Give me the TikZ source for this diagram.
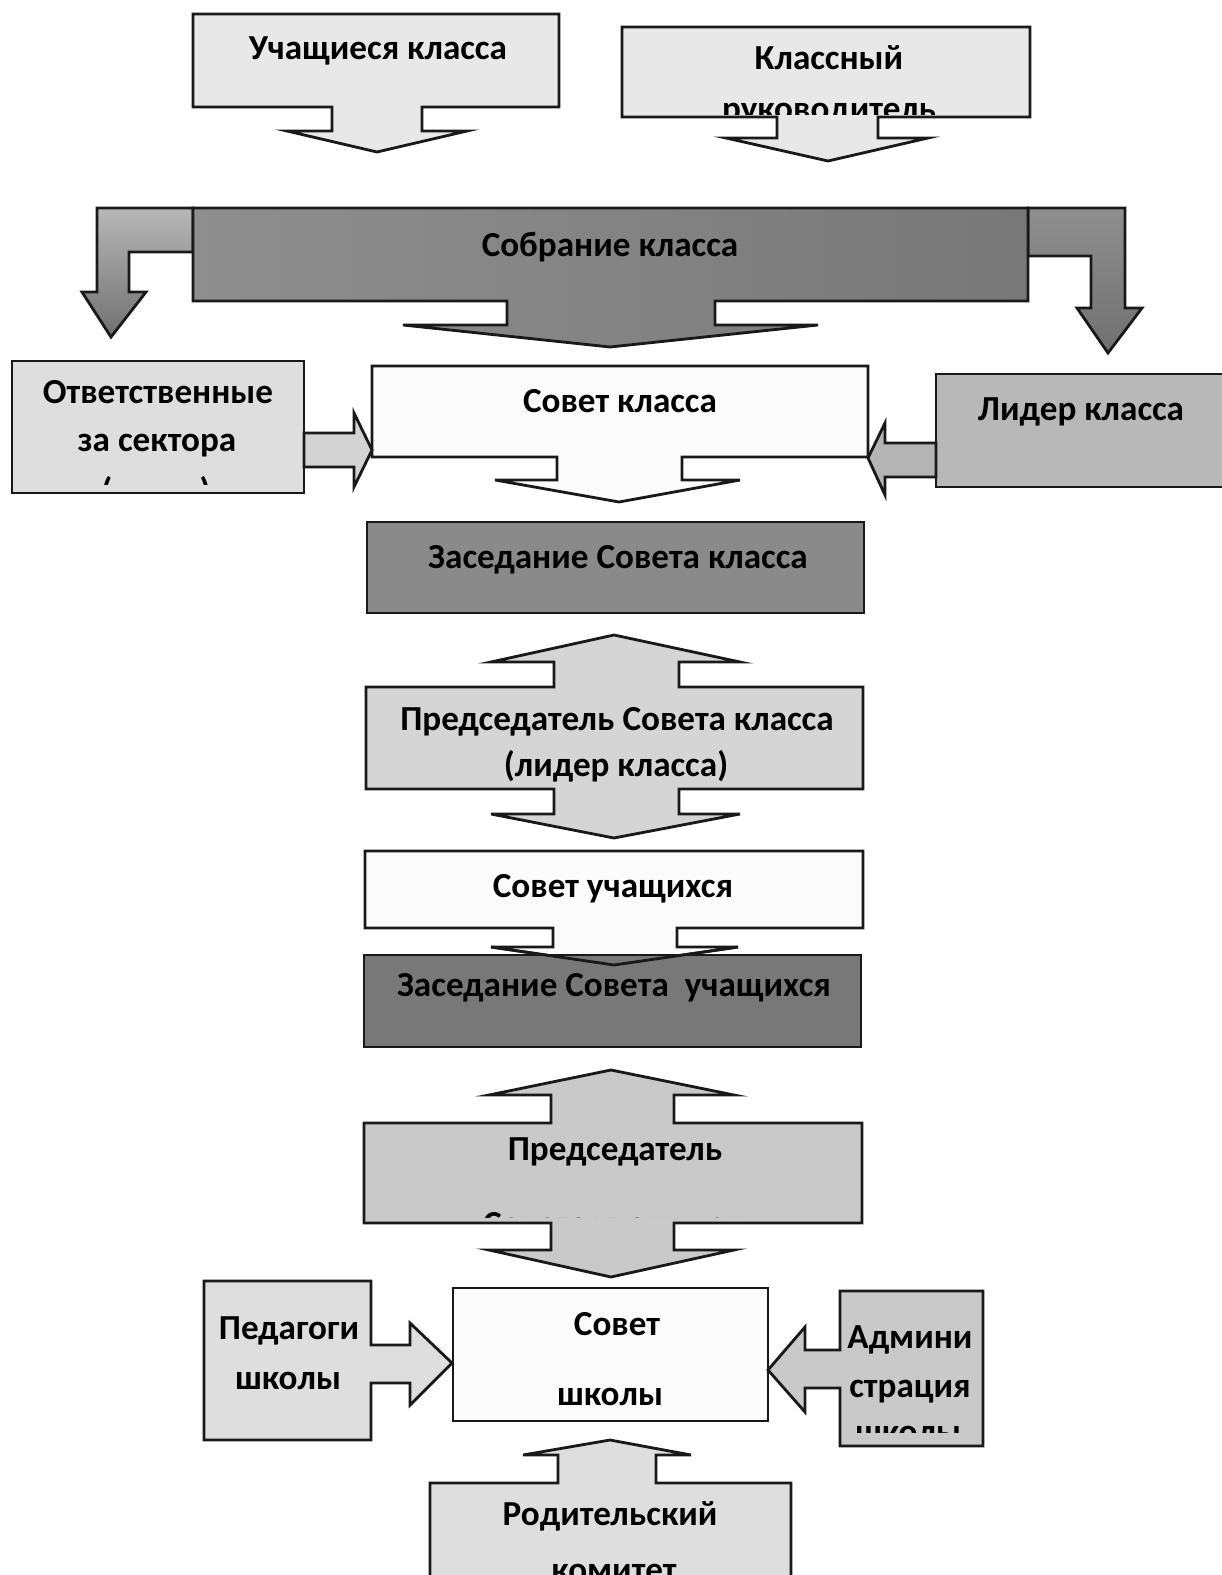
\documentclass[tikz,border=0pt]{standalone}
\usepackage{fontspec}
\setmainfont{Carlito}
\definecolor{boxpale}{gray}{0.91}
\definecolor{boxlight}{gray}{0.87}
\definecolor{boxmid}{gray}{0.79}
\definecolor{boxleader}{gray}{0.72}
\definecolor{boxdark}{gray}{0.54}
\definecolor{boxdarker}{gray}{0.47}
\definecolor{boxwhite}{gray}{0.985}
\begin{document}
\begin{tikzpicture}[x=0.02cm, y=-0.02cm,
                    outline/.style={draw=black!90, line width=1.6pt, line join=miter},
                    txt/.style={anchor=base, inner sep=0pt, text=black,
                                font=\bfseries\fontsize{20}{24}\selectfont}]
  \useasboundingbox (0,0) rectangle (1222,1575);
  \clip (0,0) rectangle (1222,1575);

  \draw[outline, fill=boxpale] (193,14) -- (559,14) -- (559,107) -- (422,107) -- (422,131) -- (467,131)
       -- (377,152) -- (287,131) -- (332,131) -- (332,107) -- (193,107) -- cycle;
  \node[txt] (pupils) at (378,60) {Учащиеся класса};

  \draw[outline, fill=boxpale] (622,27) -- (1030,27) -- (1030,117) -- (878,117) -- (878,138) -- (928,138)
       -- (828,161) -- (726,138) -- (777,138) -- (777,117) -- (622,117) -- cycle;
  \node[txt] (tutor) at (829,70) {Классный};
  \begin{scope}
    \clip (622,27) rectangle (1030,115);
    \node[txt] (tutor2) at (829,120) {руководитель};
  \end{scope}

  \draw[outline, top color=black!28, bottom color=black!56] (193,208) -- (97,208) -- (97,292) -- (82,292)
       -- (111,337) -- (146,292) -- (129,292) -- (129,252) -- (193,252) -- cycle;
  \draw[outline, top color=black!44, bottom color=black!56] (1028,208) -- (1125,208) -- (1125,308) -- (1142,308)
       -- (1108,353) -- (1077,308) -- (1091,308) -- (1091,256) -- (1028,256) -- cycle;
  \draw[outline, left color=black!44, right color=black!53] (193,208) -- (1028,208) -- (1028,301) -- (715,301)
       -- (715,325) -- (818,325) -- (610,347) -- (403,325) -- (507,325) -- (507,301) -- (193,301) -- cycle;
  \node[txt] (meeting) at (610,256) {Собрание класса};

  \draw[outline, fill=boxlight] (12,361) rectangle (304,493);
  \node[txt] (sectors) at (158,403) {Ответственные};
  \node[txt] (sectors2) at (157,451) {за сектора};
  \begin{scope}
    \clip (12,361) rectangle (304,484);
    \node[txt] (sectors3) at (156,502) {(\hspace{1.75cm})};
  \end{scope}

  \draw[outline, fill=boxwhite] (372,366) -- (868,366) -- (868,457) -- (682,457) -- (682,480) -- (740,480)
       -- (619,502) -- (495,480) -- (557,480) -- (557,457) -- (372,457) -- cycle;
  \node[txt] (council) at (620,412) {Совет класса};

  \draw[outline, fill=boxleader] (936,374) rectangle (1240,487);
  \node[txt] (leader) at (1081,420) {Лидер класса};

  \draw[outline, fill=boxlight!95!black] (304,433) -- (354,433) -- (354,413) -- (372,450) -- (354,487)
       -- (354,467) -- (304,467) -- cycle;
  \draw[outline, fill=boxleader!105] (936,443) -- (885,443) -- (885,423) -- (868,458) -- (885,495)
       -- (885,477) -- (936,477) -- cycle;

  \draw[outline, fill=boxdark] (367,522) rectangle (864,613);
  \node[txt] (session) at (618,568) {Заседание Совета класса};

  \draw[outline, fill=boxlight!96!black] (366,687) -- (554,687) -- (554,662) -- (491,662) -- (614,635)
       -- (740,662) -- (679,662) -- (679,687) -- (863,687) -- (863,789) -- (679,789) -- (679,814)
       -- (740,814) -- (614,838) -- (491,814) -- (554,814) -- (554,789) -- (366,789) -- cycle;
  \node[txt] (chair) at (617,730) {Председатель Совета класса};
  \node[txt] (chair2) at (616,776) {(лидер класса)};

  \draw[outline, fill=boxwhite] (365,851) -- (863,851) -- (863,928) -- (677,928) -- (677,947) -- (738,947)
       -- (614,965) -- (491,947) -- (553,947) -- (553,928) -- (365,928) -- cycle;
  \node[txt] (students) at (613,897) {Совет учащихся};

  \draw[outline, fill=boxdarker] (364,955) rectangle (861,1047);
  \draw[outline] (491,947) -- (614,965) -- (738,947);
  \node[txt] (session2) at (614,996) {Заседание Совета\ \ учащихся};

  \draw[outline, fill=boxmid] (364,1123) -- (551,1123) -- (551,1095) -- (489,1095) -- (611,1070)
       -- (734,1095) -- (674,1095) -- (674,1123) -- (862,1123) -- (862,1223) -- (674,1223) -- (674,1250)
       -- (734,1250) -- (611,1277) -- (489,1250) -- (551,1250) -- (551,1223) -- (364,1223) -- cycle;
  \node[txt] (chief) at (615,1160) {Председатель};
  \begin{scope}
    \clip (364,1123) rectangle (862,1217);
    \node[txt] (chief2) at (612,1235) {Совета учащихся};
  \end{scope}

  \draw[outline, fill=boxlight] (204,1281) -- (371,1281) -- (371,1345) -- (410,1345) -- (410,1323)
       -- (452,1363) -- (410,1405) -- (410,1383) -- (371,1383) -- (371,1440) -- (204,1440) -- cycle;
  \node[txt] (teachers) at (289,1339) {Педагоги};
  \node[txt] (teachers2) at (288,1389) {школы};

  \draw[outline, fill=boxwhite] (453,1288) rectangle (768,1421);
  \node[txt] (school) at (617,1335) {Совет};
  \node[txt] (school2) at (610,1405) {школы};

  \draw[outline, fill=boxmid] (840,1291) -- (983,1291) -- (983,1446) -- (840,1446) -- (840,1388) -- (805,1388)
       -- (805,1412) -- (768,1370) -- (805,1327) -- (805,1350) -- (840,1350) -- cycle;
  \node[txt] (admin) at (910,1348) {Админи};
  \node[txt] (admin2) at (910,1397) {страция};
  \begin{scope}
    \clip (840,1291) rectangle (983,1432);
    \node[txt] (admin3) at (908,1443) {школы};
  \end{scope}

  \draw[outline, fill=boxlight] (430,1483) -- (558,1483) -- (558,1455) -- (523,1455) -- (610,1440)
       -- (691,1455) -- (656,1455) -- (656,1483) -- (791,1483) -- (791,1600) -- (430,1600) -- cycle;
  \node[txt] (parents) at (610,1525) {Родительский};
  \node[txt] (parents2) at (614,1581) {комитет};
\end{tikzpicture}
\end{document}
